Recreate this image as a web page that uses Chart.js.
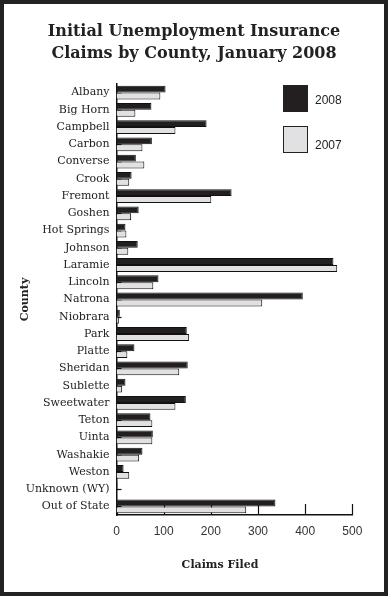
<!DOCTYPE html>
<html>
<head>
<meta charset="utf-8">
<script src="https://cdn.jsdelivr.net/npm/chart.js@4.4.1/dist/chart.umd.min.js"></script>
<style>
  html, body { margin: 0; padding: 0; background: #fff; }
  #frame {
    position: relative;
    width: 388px;
    height: 596px;
    box-sizing: border-box;
    border: 4px solid #222;
    background: #fff;
  }
  #chartBox { position: absolute; left: 0; top: 0; width: 380px; height: 588px; }
  #title {
    position: absolute; left: 0; top: 16px; width: 380px;
    text-align: center; color: #222;
    font: bold 16px/22px "DejaVu Serif", serif;
  }
  .legend-box { position: absolute; left: 279px; width: 23px; height: 25px; border: 1px solid #222; }
  .legend-text { position: absolute; left: 311px; font: 12px "Liberation Sans", Arial, sans-serif; color: #222; }
</style>
</head>
<body>
<div id="frame">
  <div id="chartBox"><canvas id="claimsChart"></canvas></div>
  <div id="title">Initial Unemployment Insurance<br>Claims by County, January 2008</div>
  <div id="legend"></div>
</div>
<script>
const counties = ['Albany', 'Big Horn', 'Campbell', 'Carbon', 'Converse', 'Crook', 'Fremont', 'Goshen',
    'Hot Springs', 'Johnson', 'Laramie', 'Lincoln', 'Natrona', 'Niobrara', 'Park', 'Platte', 'Sheridan',
    'Sublette', 'Sweetwater', 'Teton', 'Uinta', 'Washakie', 'Weston', 'Unknown (WY)', 'Out of State'];
const claims2008 = [104, 74, 191, 75, 41, 32, 244, 47, 19, 45, 460, 89, 395, 7, 149, 38, 151, 19, 147, 72, 77, 55, 15, 2, 337];
const claims2007 = [93, 40, 125, 55, 59, 27, 201, 31, 21, 25, 468, 78, 309, 5, 154, 23, 133, 12, 125, 76, 76, 48, 27, 0, 275];
const xTicks = [0, 100, 200, 300, 400, 500];

const darkColor = '#231f20';
const lightColor = '#e1e1e3';

// small tick marks drawn inward from both axes, behind the bars
const innerTicks = {
    id: 'innerTicks',
    beforeDatasetsDraw(chart) {
        const ctx = chart.ctx;
        const x = chart.scales.x;
        const y = chart.scales.y;
        const area = chart.chartArea;
        ctx.save();
        ctx.strokeStyle = '#111';
        ctx.lineWidth = 1.2;
        xTicks.forEach(v => {
            const px = Math.round(x.getPixelForValue(v)) + 0.5;
            ctx.beginPath();
            ctx.moveTo(px, area.bottom);
            ctx.lineTo(px, area.bottom - 11);
            ctx.stroke();
        });
        counties.forEach((c, i) => {
            const py = Math.round(y.getPixelForValue(i)) + 0.5;
            ctx.beginPath();
            ctx.moveTo(area.left, py);
            ctx.lineTo(area.left + 5, py);
            ctx.stroke();
        });
        ctx.restore();
    }
};

// x axis title, sitting a bit left of the plot centre as in the original
const xTitle = {
    id: 'xTitle',
    afterDraw(chart) {
        const ctx = chart.ctx;
        ctx.save();
        ctx.font = 'bold 11px "DejaVu Serif", serif';
        ctx.fillStyle = '#222';
        ctx.textAlign = 'center';
        ctx.textBaseline = 'middle';
        ctx.fillText('Claims Filed', chart.chartArea.left + 103.5, 561);
        ctx.restore();
    }
};

const chart = new Chart(document.getElementById('claimsChart'), {
    type: 'bar',
    data: {
        labels: counties,
        datasets: [{
            label: '2008',
            data: claims2008,
            backgroundColor: darkColor,
            borderColor: '#111',
            borderWidth: 1
        }, {
            label: '2007',
            data: claims2007,
            backgroundColor: lightColor,
            borderColor: '#111',
            borderWidth: 1
        }]
    },
    options: {
        indexAxis: 'y',
        responsive: true,
        maintainAspectRatio: false,
        animation: false,
        datasets: {
            bar: { categoryPercentage: 0.8, barPercentage: 1 }
        },
        layout: { padding: { top: 80, right: 31.7, bottom: 0, left: 0 } },
        plugins: {
            legend: { display: false },
            tooltip: { enabled: false },
            title: { display: false }
        },
        scales: {
            x: {
                min: 0,
                max: 500,
                afterBuildTicks: scale => { scale.ticks = xTicks.map(v => ({ value: v })); },
                afterFit: scale => { scale.height = 77; },
                grid: { display: false, drawTicks: false },
                border: { display: true, color: '#111', width: 1.5 },
                ticks: {
                    padding: 9,
                    color: '#333',
                    font: { family: '"Liberation Sans", Arial, sans-serif', size: 12 }
                }
            },
            y: {
                afterFit: scale => { scale.width = 112.5; },
                grid: { display: false, drawTicks: false },
                border: { display: true, color: '#111', width: 1.5 },
                ticks: {
                    autoSkip: false,
                    padding: 7,
                    color: '#222',
                    font: { family: '"DejaVu Serif", serif', size: 11 }
                },
                title: {
                    display: true,
                    text: 'County',
                    color: '#222',
                    font: { family: '"DejaVu Serif", serif', size: 11, weight: 'bold' },
                    padding: { top: 14.4, bottom: 0 }
                }
            }
        }
    },
    plugins: [innerTicks, xTitle]
});

// legend built from the datasets, placed inside the plot at top right
const legendEl = document.getElementById('legend');
const legendTops = [81, 122];
chart.data.datasets.forEach((ds, i) => {
    const box = document.createElement('div');
    box.className = 'legend-box';
    box.style.top = legendTops[i] + 'px';
    box.style.background = ds.backgroundColor;
    legendEl.appendChild(box);
    const txt = document.createElement('div');
    txt.className = 'legend-text';
    txt.style.top = (legendTops[i] + (i === 0 ? 8 : 12)) + 'px';
    txt.textContent = ds.label;
    legendEl.appendChild(txt);
});
</script>
</body>
</html>
